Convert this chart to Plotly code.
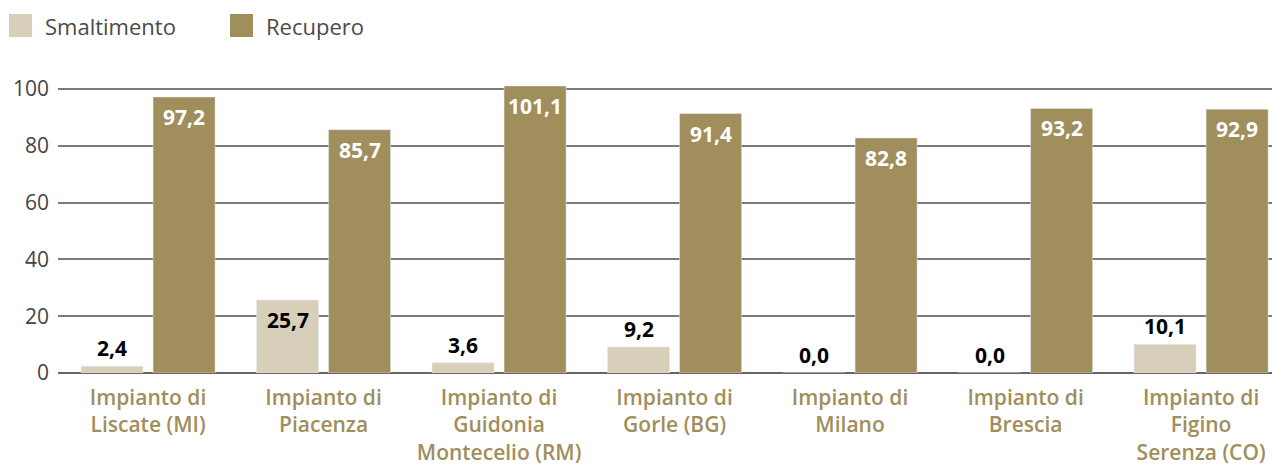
import plotly.graph_objects as go

# Impianti e quantità (valori percentuali per destinazione)
impianti = [
    "Impianto di<br>Liscate (MI)",
    "Impianto di<br>Piacenza",
    "Impianto di<br>Guidonia<br>Montecelio (RM)",
    "Impianto di<br>Gorle (BG)",
    "Impianto di<br>Milano",
    "Impianto di<br>Brescia",
    "Impianto di<br>Figino<br>Serenza (CO)",
]
smaltimento = [2.4, 25.7, 3.6, 9.2, 0.0, 0.0, 10.1]
recupero = [97.2, 85.7, 101.1, 91.4, 82.8, 93.2, 92.9]
serie_nomi = ["Smaltimento", "Recupero"]
y_ticks = [0, 20, 40, 60, 80, 100]

COL_SMALT = "#d8cfbb"
COL_REC = "#a08e5c"
FONT = "Open Sans"
BAR_OFFSET_PX = 36  # distanza del centro barra dal centro del gruppo


def fmt(v):
    return f"{v:.1f}".replace(".", ",")


x = list(range(len(impianti)))

fig = go.Figure()
fig.add_trace(go.Bar(x=x, y=smaltimento, name=serie_nomi[0],
                     marker_color=COL_SMALT, showlegend=False, hoverinfo="skip"))
fig.add_trace(go.Bar(x=x, y=recupero, name=serie_nomi[1],
                     marker_color=COL_REC, showlegend=False, hoverinfo="skip"))

annotations = []
label_font = dict(family=FONT, size=21, weight="bold")

# Valori di smaltimento: sopra la barra, dentro se la barra è alta
for xi, v in zip(x, smaltimento):
    inside = v > 20
    annotations.append(dict(
        x=xi, y=v, xref="x", yref="y", text=fmt(v), showarrow=False,
        xshift=-BAR_OFFSET_PX, yanchor="top" if inside else "bottom",
        yshift=-4 if inside else 2,
        font=dict(label_font, color="#000000"),
    ))

# Valori di recupero: dentro la barra, in alto
for xi, v in zip(x, recupero):
    annotations.append(dict(
        x=xi, y=v, xref="x", yref="y", text=fmt(v), showarrow=False,
        xshift=BAR_OFFSET_PX, yanchor="top", yshift=-4,
        font=dict(label_font, color="#ffffff"),
    ))

# Legenda in alto a sinistra
legend_items = [(serie_nomi[0], COL_SMALT, 9), (serie_nomi[1], COL_REC, 230)]
shapes = []
for nome, col, px in legend_items:
    shapes.append(dict(type="rect", xref="paper", yref="paper",
                       x0=(px - 58) / 1214, x1=(px + 23 - 58) / 1214,
                       y0=(373 - 37) / 293, y1=(373 - 14) / 293,
                       fillcolor=col, line=dict(width=0), layer="above"))
    annotations.append(dict(text=nome, xref="paper", yref="paper",
                            x=(px + 34 - 58) / 1214, y=(373 - 25.5) / 293,
                            xanchor="left", yanchor="middle", showarrow=False,
                            font=dict(family=FONT, size=22, color="#4a4a4a")))

fig.update_layout(
    width=1272, height=466,
    margin=dict(l=58, r=0, t=80, b=93),
    paper_bgcolor="white", plot_bgcolor="white",
    barmode="group", bargap=0.179, bargroupgap=0.139,
    font=dict(family=FONT),
    shapes=shapes, annotations=annotations,
)
fig.update_xaxes(
    range=[-0.513, 6.404], tickmode="array", tickvals=x, ticktext=impianti,
    tickfont=dict(family=FONT, size=21, color=COL_REC, weight=600),
    showgrid=False, showline=False, ticks="", zeroline=False,
    ticklabelstandoff=10,
)
fig.update_yaxes(
    range=[0, 103.2], tickmode="array", tickvals=y_ticks,
    tickfont=dict(family=FONT, size=21, color="#444444"),
    showgrid=True, gridcolor="#7a7a7a", gridwidth=1.5,
    zeroline=True, zerolinecolor="#666666", zerolinewidth=1.5,
    showline=False, ticks="", ticklabelstandoff=8,
)

fig.write_html("out.html")
